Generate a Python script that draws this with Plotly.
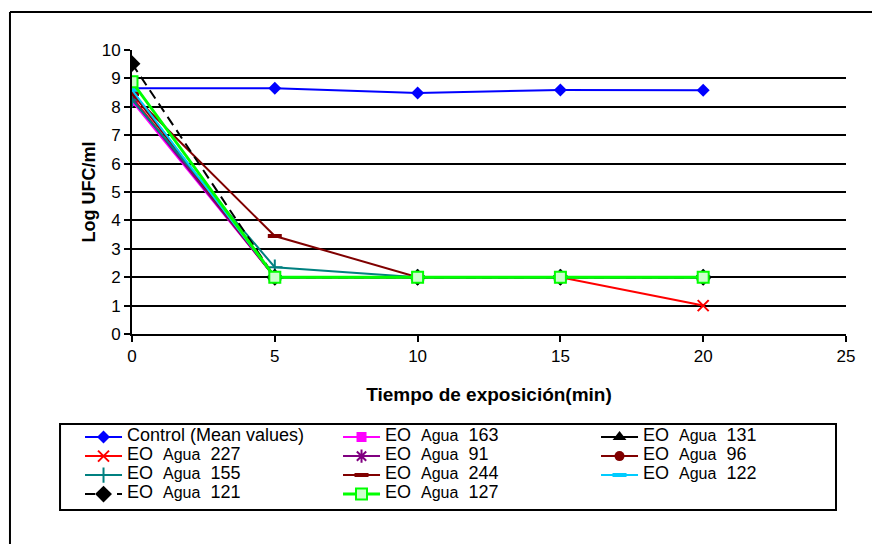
import plotly.graph_objects as go

# ---- data ----
tiempo = [0, 5, 10, 15, 20]
control = [8.65, 8.65, 8.49, 8.59, 8.58]
eo_163 = [8.2, 2.0, 2.0, 2.0, 2.0]
eo_131 = [8.55, 2.0, 2.0, 2.0, 2.0]
eo_227 = [8.35, 2.0, 2.0, 2.0, 1.0]
eo_91 = [8.3, 2.0, 2.0, 2.0, 2.0]
eo_96 = [8.5, 2.0, 2.0, 2.0, 2.0]
eo_155 = [8.25, 2.35, 2.0, 2.0, 2.0]
eo_244 = [8.45, 3.45, 2.0, 2.0, 2.0]
eo_122 = [8.6, 2.0, 2.0, 2.0, 2.0]
eo_121 = [9.52, 2.0, 2.0, 2.0, 2.0]
eo_127 = [8.88, 2.0, 2.0, 2.0, 2.0]

x_ticks = [0, 5, 10, 15, 20, 25]
y_ticks = list(range(0, 11))


def lab(num):
    return ("<span style='font-size:18px'>EO&nbsp;&nbsp;<span style='font-size:16px'>Agua</span>"
            "&nbsp;&nbsp;" + num + "</span>")


series = [
    ("<span style='font-size:18px'>Control (Mean values)</span>", control,
     dict(color="#0000FF", width=2), dict(symbol="diamond", size=10, color="#0000FF")),
    (lab("163"), eo_163, dict(color="#FF00FF", width=2),
     dict(symbol="square", size=10, color="#FF00FF")),
    (lab("131"), eo_131, dict(color="#000000", width=2),
     dict(symbol="triangle-up", size=12, color="#000000")),
    (lab("227"), eo_227, dict(color="#FF0000", width=2),
     dict(symbol="x-thin-open", size=11, color="#FF0000", line=dict(width=2, color="#FF0000"))),
    (lab("91"), eo_91, dict(color="#800080", width=2),
     dict(symbol="asterisk-open", size=11, color="#800080", line=dict(width=2, color="#800080"))),
    (lab("96"), eo_96, dict(color="#800000", width=2),
     dict(symbol="circle", size=10, color="#800000")),
    (lab("155"), eo_155, dict(color="#008080", width=2),
     dict(symbol="cross-thin-open", size=11, color="#008080", line=dict(width=2, color="#008080"))),
    (lab("244"), eo_244, dict(color="#800000", width=2),
     dict(symbol="line-ew-open", size=10, color="#800000", line=dict(width=4, color="#800000"))),
    (lab("122"), eo_122, dict(color="#00CCFF", width=2),
     dict(symbol="line-ew-open", size=10, color="#00CCFF", line=dict(width=4, color="#00CCFF"))),
    (lab("121"), eo_121, dict(color="#000000", width=2, dash="10px,6px"),
     dict(symbol="diamond", size=13, color="#000000")),
    (lab("127"), eo_127, dict(color="#00FF00", width=3),
     dict(symbol="square", size=11, color="#CCFFCC", line=dict(width=2, color="#00FF00"))),
]

fig = go.Figure()
for name, ys, line, marker in series:
    fig.add_trace(go.Scatter(x=tiempo, y=ys, name=name, mode="lines+markers",
                             line=line, marker=marker))

fig.update_layout(
    width=872, height=544,
    margin=dict(l=132, r=26, t=50, b=210),
    paper_bgcolor="white", plot_bgcolor="white",
    font=dict(family="Liberation Sans, Arial, sans-serif", color="black", size=16),
    showlegend=True,
    legend=dict(
        orientation="h", x=-0.0728, xanchor="left", y=-0.312, yanchor="top",
        font=dict(size=11, color="black"), itemwidth=37,
        entrywidth=206, entrywidthmode="pixels",
        bgcolor="rgba(0,0,0,0)", borderwidth=0, tracegroupgap=0,
    ),
    xaxis=dict(
        range=[0, 25], tickvals=x_ticks, ticktext=[str(v) for v in x_ticks],
        showgrid=False, zeroline=False, showline=True, linecolor="black", linewidth=2,
        ticks="outside", ticklen=6, tickwidth=2, tickcolor="black",
        tickfont=dict(size=17),
        title=dict(text="<b>Tiempo de exposición(min)</b>", font=dict(size=19), standoff=22),
    ),
    yaxis=dict(
        range=[0, 10], tickvals=y_ticks, ticktext=[str(v) for v in y_ticks],
        showgrid=True, gridcolor="black", gridwidth=1.5,
        zeroline=False, showline=True, linecolor="black", linewidth=2,
        ticks="outside", ticklen=6, tickwidth=2, tickcolor="black",
        tickfont=dict(size=17),
        title=dict(text="<b>Log UFC/ml</b>", font=dict(size=18), standoff=1),
    ),
    shapes=[
        dict(type="line", xref="paper", yref="paper",
             x0=-0.1709, x1=1.1, y0=1.1338, y1=1.1338,
             line=dict(color="black", width=2), layer="below"),
        dict(type="line", xref="paper", yref="paper",
             x0=-0.1709, x1=-0.1709, y0=-0.85, y1=1.1338,
             line=dict(color="black", width=2), layer="below"),
        dict(type="rect", xref="paper", yref="paper",
             x0=-0.1008, x1=0.986, y0=-0.6197, y1=-0.3169,
             line=dict(color="black", width=2), fillcolor="rgba(0,0,0,0)", layer="below"),
    ],
)

fig.write_html("out.html")
